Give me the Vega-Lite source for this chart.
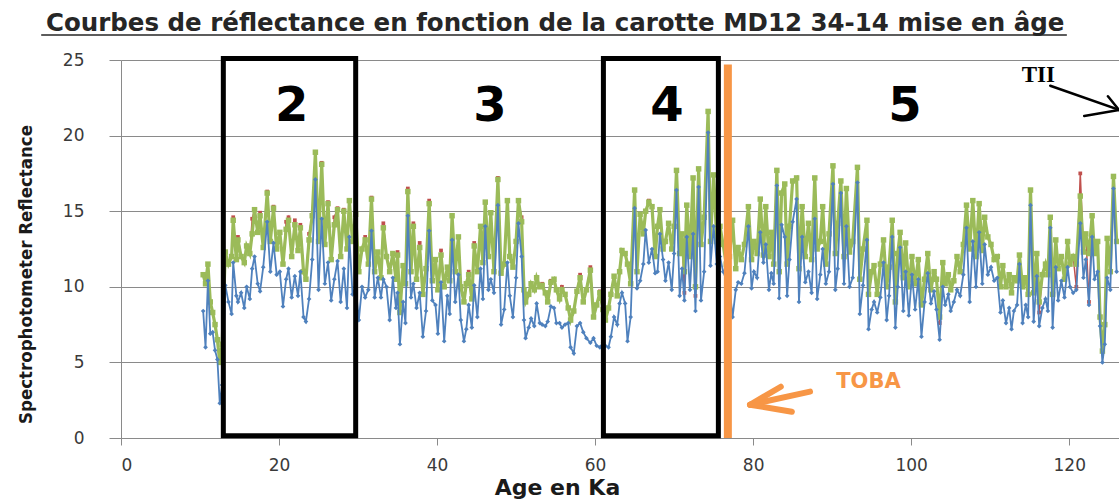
{
  "$schema": "https://vega.github.io/schema/vega-lite/v6.json",
  "width": 998,
  "height": 378,
  "autosize": {"type": "none"},
  "padding": {"left": 121, "top": 60, "right": 0, "bottom": 65},
  "background": "white",
  "config": {
    "view": {"stroke": null},
    "axisX": {"grid": false, "domainColor": "#8a8a8a", "tickColor": "#8a8a8a", "tickSize": 7,
              "labelFont": "DejaVu Sans", "labelFontSize": 17, "labelColor": "#3a3a3a", "labelPadding": 12,
              "titleFont": "DejaVu Sans", "titleFontSize": 22, "titleFontWeight": "bold", "titleColor": "#1a1a1a"},
    "axisY": {"grid": true, "gridColor": "#8a8a8a", "domainColor": "#8a8a8a", "tickColor": "#8a8a8a", "tickSize": 12,
              "labelFont": "DejaVu Sans", "labelFontSize": 17, "labelColor": "#3a3a3a", "labelPadding": 25,
              "titleFont": "Liberation Sans Narrow, DejaVu Sans Condensed, sans-serif",
              "titleFontSize": 18.5, "titleFontWeight": "bold", "titleColor": "#1a1a1a"}
  },
  "datasets": {
    "series": [
      {"a":10.4,"g":10.8,"r":10.8,"b":8.4},{"a":10.7,"g":10.2,"r":10.2,"b":6.0},{"a":11.0,"g":11.5,"r":11.5,"b":10.4},{"a":11.3,"g":9.0,"r":9.0,"b":6.9},
      {"a":11.6,"g":8.3,"r":8.3,"b":7.0},{"a":11.9,"g":7.5,"r":7.5,"b":5.8},{"a":12.2,"g":6.5,"r":6.5,"b":5.2},{"a":12.5,"g":5.0,"r":5.0,"b":2.3},
      {"a":12.8,"g":6.2,"r":6.2,"b":3.5},{"a":13.2,"g":12.3,"r":12.3,"b":10.1},{"a":13.6,"g":11.5,"r":11.5,"b":9.0},{"a":14.0,"g":12.0,"r":12.0,"b":8.2},
      {"a":14.2,"g":14.4,"r":14.6,"b":11.6},{"a":14.6,"g":11.8,"r":11.8,"b":9.4},{"a":14.8,"g":13.1,"r":13.3,"b":9.0},{"a":15.2,"g":12.0,"r":12.0,"b":9.6},
      {"a":15.6,"g":11.6,"r":11.6,"b":8.6},{"a":15.9,"g":12.7,"r":12.7,"b":10.0},{"a":16.3,"g":12.2,"r":12.2,"b":9.2},{"a":16.6,"g":13.5,"r":14.5,"b":11.2},
      {"a":16.9,"g":15.1,"r":15.1,"b":12.0},{"a":17.3,"g":13.6,"r":13.6,"b":10.2},{"a":17.6,"g":14.7,"r":14.9,"b":9.7},{"a":18.0,"g":12.6,"r":12.6,"b":11.3},
      {"a":18.5,"g":16.2,"r":16.3,"b":14.3},{"a":18.9,"g":13.0,"r":13.0,"b":11.0},{"a":19.3,"g":15.2,"r":15.3,"b":12.9},{"a":19.7,"g":12.5,"r":12.5,"b":10.8},
      {"a":20.1,"g":13.6,"r":13.6,"b":11.0},{"a":20.5,"g":11.5,"r":11.5,"b":8.7},{"a":20.9,"g":13.8,"r":14.3,"b":10.5},{"a":21.2,"g":14.4,"r":14.6,"b":11.2},
      {"a":21.6,"g":12.0,"r":12.0,"b":9.3},{"a":22.0,"g":14.1,"r":14.4,"b":10.7},{"a":22.4,"g":12.4,"r":12.4,"b":9.4},{"a":22.7,"g":13.9,"r":14.1,"b":11.0},
      {"a":23.1,"g":11.0,"r":11.0,"b":8.0},{"a":23.4,"g":10.5,"r":10.5,"b":7.7},{"a":23.8,"g":13.1,"r":13.5,"b":9.2},{"a":24.2,"g":14.7,"r":14.7,"b":11.8},
      {"a":24.6,"g":18.9,"r":18.9,"b":17.1},{"a":25.0,"g":13.0,"r":13.0,"b":9.8},{"a":25.4,"g":18.1,"r":18.2,"b":14.5},{"a":25.8,"g":12.8,"r":12.8,"b":10.2},
      {"a":26.2,"g":15.5,"r":15.6,"b":11.6},{"a":26.6,"g":11.8,"r":11.8,"b":9.1},{"a":27.0,"g":14.1,"r":14.6,"b":10.5},{"a":27.4,"g":15.1,"r":15.2,"b":11.7},
      {"a":27.8,"g":12.0,"r":12.0,"b":9.0},{"a":28.2,"g":15.0,"r":15.1,"b":11.2},{"a":28.6,"g":12.5,"r":12.5,"b":8.6},{"a":28.9,"g":15.7,"r":15.7,"b":13.3},
      {"a":29.3,"g":13.0,"r":13.0,"b":9.5},{"a":29.7,"g":14.8,"r":14.8,"b":10.0},{"a":30.1,"g":11.0,"r":11.0,"b":7.8},{"a":30.5,"g":12.5,"r":12.5,"b":10.0},
      {"a":30.9,"g":13.1,"r":13.3,"b":9.3},{"a":31.3,"g":11.5,"r":11.5,"b":9.8},{"a":31.7,"g":15.8,"r":15.9,"b":13.7},{"a":32.1,"g":11.0,"r":11.0,"b":9.3},
      {"a":32.5,"g":12.3,"r":12.3,"b":10.6},{"a":32.9,"g":10.6,"r":10.6,"b":9.3},{"a":33.2,"g":13.9,"r":14.2,"b":10.5},{"a":33.6,"g":12.0,"r":12.0,"b":10.0},
      {"a":34.0,"g":11.0,"r":11.0,"b":7.8},{"a":34.4,"g":12.2,"r":12.2,"b":10.6},{"a":34.8,"g":10.5,"r":10.5,"b":8.6},{"a":35.0,"g":12.1,"r":12.3,"b":9.6},
      {"a":35.3,"g":8.3,"r":8.3,"b":6.2},{"a":35.7,"g":11.4,"r":11.4,"b":9.0},{"a":36.0,"g":10.2,"r":10.2,"b":7.6},{"a":36.3,"g":16.3,"r":16.5,"b":14.7},
      {"a":36.7,"g":11.0,"r":11.0,"b":9.3},{"a":37.0,"g":14.0,"r":14.2,"b":10.2},{"a":37.4,"g":10.5,"r":10.5,"b":8.6},{"a":37.8,"g":12.6,"r":12.9,"b":9.6},
      {"a":38.2,"g":9.5,"r":9.5,"b":6.7},{"a":38.6,"g":11.2,"r":11.2,"b":8.4},{"a":39.0,"g":15.5,"r":15.7,"b":13.7},{"a":39.4,"g":10.4,"r":10.4,"b":9.1},
      {"a":39.8,"g":11.8,"r":11.8,"b":8.8},{"a":40.1,"g":9.8,"r":9.8,"b":6.9},{"a":40.5,"g":12.1,"r":12.4,"b":10.3},{"a":40.9,"g":10.0,"r":10.0,"b":6.4},
      {"a":41.3,"g":11.3,"r":11.3,"b":9.4},{"a":41.6,"g":10.4,"r":10.4,"b":8.2},{"a":41.9,"g":14.7,"r":14.7,"b":13.1},{"a":42.3,"g":11.0,"r":11.0,"b":9.0},
      {"a":42.7,"g":13.3,"r":13.3,"b":10.8},{"a":43.0,"g":10.0,"r":10.0,"b":7.8},{"a":43.4,"g":9.0,"r":9.0,"b":6.4},{"a":43.7,"g":10.2,"r":10.2,"b":7.2},
      {"a":44.0,"g":10.8,"r":11.0,"b":8.8},{"a":44.4,"g":9.2,"r":9.2,"b":7.3},{"a":44.7,"g":12.7,"r":12.9,"b":10.1},{"a":45.1,"g":11.0,"r":11.0,"b":8.0},
      {"a":45.5,"g":14.0,"r":14.0,"b":11.2},{"a":45.8,"g":11.6,"r":11.6,"b":9.2},{"a":46.1,"g":15.6,"r":15.6,"b":14.0},{"a":46.5,"g":12.0,"r":12.0,"b":9.8},
      {"a":46.8,"g":14.9,"r":14.9,"b":10.5},{"a":47.2,"g":11.0,"r":11.0,"b":9.6},{"a":47.7,"g":17.1,"r":17.2,"b":15.4},{"a":48.1,"g":10.9,"r":11.0,"b":7.5},
      {"a":48.5,"g":11.5,"r":11.5,"b":8.5},{"a":48.9,"g":15.7,"r":15.7,"b":11.6},{"a":49.2,"g":12.0,"r":12.0,"b":9.4},{"a":49.6,"g":11.3,"r":11.3,"b":8.0},
      {"a":50.0,"g":13.0,"r":13.0,"b":10.6},{"a":50.3,"g":15.7,"r":15.7,"b":14.2},{"a":50.7,"g":14.3,"r":14.6,"b":12.0},{"a":51.0,"g":9.8,"r":9.8,"b":7.8},
      {"a":51.2,"g":9.0,"r":9.0,"b":6.6},{"a":51.6,"g":9.5,"r":9.5,"b":7.3},{"a":51.9,"g":10.2,"r":10.2,"b":7.9},{"a":52.3,"g":9.8,"r":9.8,"b":7.4},
      {"a":52.6,"g":10.6,"r":10.6,"b":8.9},{"a":53.0,"g":10.0,"r":10.0,"b":7.6},{"a":53.3,"g":10.1,"r":10.2,"b":7.5},{"a":53.7,"g":9.6,"r":9.6,"b":7.4},
      {"a":54.0,"g":9.0,"r":9.1,"b":7.7},{"a":54.4,"g":10.3,"r":10.4,"b":8.7},{"a":54.8,"g":10.5,"r":10.5,"b":8.6},{"a":55.1,"g":9.8,"r":9.8,"b":7.6},
      {"a":55.5,"g":9.2,"r":9.2,"b":7.6},{"a":55.8,"g":9.8,"r":10.0,"b":7.3},{"a":56.2,"g":9.5,"r":9.5,"b":7.5},{"a":56.6,"g":8.6,"r":8.6,"b":7.6},
      {"a":56.9,"g":7.8,"r":7.8,"b":6.0},{"a":57.3,"g":8.4,"r":8.4,"b":5.6},{"a":57.7,"g":9.7,"r":9.7,"b":7.4},{"a":58.1,"g":10.6,"r":10.8,"b":7.6},
      {"a":58.5,"g":9.0,"r":9.0,"b":7.0},{"a":58.9,"g":9.8,"r":9.8,"b":6.6},{"a":59.4,"g":11.1,"r":11.3,"b":6.3},{"a":59.8,"g":8.0,"r":8.0,"b":6.6},
      {"a":60.2,"g":8.8,"r":8.8,"b":6.1},{"a":60.6,"g":9.6,"r":9.7,"b":6.0},{"a":61.0,"g":8.5,"r":8.5,"b":6.3},{"a":61.3,"g":7.8,"r":7.8,"b":6.1},
      {"a":61.7,"g":8.6,"r":8.6,"b":6.0},{"a":62.0,"g":9.5,"r":9.5,"b":6.7},{"a":62.4,"g":10.7,"r":10.7,"b":8.0},{"a":62.8,"g":9.4,"r":9.4,"b":7.5},
      {"a":63.1,"g":11.0,"r":11.0,"b":8.9},{"a":63.4,"g":12.4,"r":12.4,"b":9.6},{"a":63.8,"g":12.2,"r":12.2,"b":8.9},{"a":64.1,"g":11.5,"r":11.5,"b":6.4},
      {"a":64.5,"g":10.2,"r":10.2,"b":8.0},{"a":65.0,"g":16.4,"r":16.4,"b":15.2},{"a":65.3,"g":11.0,"r":11.0,"b":9.9},{"a":65.7,"g":14.8,"r":14.8,"b":10.4},
      {"a":66.1,"g":13.5,"r":13.5,"b":11.5},{"a":66.4,"g":15.0,"r":15.0,"b":13.75},{"a":66.8,"g":15.6,"r":15.7,"b":11.6},{"a":67.2,"g":15.3,"r":15.3,"b":12.5},
      {"a":67.6,"g":12.0,"r":12.0,"b":10.9},{"a":67.9,"g":14.0,"r":14.0,"b":11.0},{"a":68.2,"g":15.1,"r":15.1,"b":13.5},{"a":68.6,"g":12.5,"r":12.5,"b":11.8},
      {"a":68.9,"g":13.0,"r":13.0,"b":10.4},{"a":69.3,"g":14.2,"r":14.2,"b":11.6},{"a":69.7,"g":12.5,"r":12.5,"b":9.8},{"a":70.0,"g":14.0,"r":14.0,"b":12.2},
      {"a":70.3,"g":17.7,"r":17.7,"b":16.4},{"a":70.7,"g":12.2,"r":12.2,"b":9.4},{"a":71.0,"g":13.5,"r":13.5,"b":11.2},{"a":71.3,"g":11.0,"r":9.6,"b":9.1},
      {"a":71.6,"g":15.4,"r":15.4,"b":13.3},{"a":72.0,"g":12.0,"r":12.0,"b":9.8},{"a":72.4,"g":17.2,"r":17.2,"b":13.5},{"a":72.7,"g":10.0,"r":9.4,"b":8.4},
      {"a":73.1,"g":17.8,"r":17.8,"b":16.6},{"a":73.4,"g":12.8,"r":12.8,"b":9.1},{"a":73.8,"g":14.6,"r":14.6,"b":11.0},{"a":74.3,"g":21.6,"r":21.6,"b":20.2},
      {"a":74.6,"g":13.0,"r":13.0,"b":11.4},{"a":75.0,"g":17.4,"r":17.4,"b":14.0},{"a":75.4,"g":13.0,"r":13.0,"b":11.5},{"a":75.8,"g":14.0,"r":14.0,"b":12.0},
      {"a":76.2,"g":12.8,"r":12.8,"b":11.0},{"a":76.6,"g":11.5,"r":11.5,"b":10.5},{"a":77.0,"g":12.0,"r":12.0,"b":10.0},{"a":77.4,"g":14.4,"r":14.4,"b":8.0},
      {"a":77.8,"g":11.2,"r":11.2,"b":9.8},{"a":78.1,"g":12.6,"r":12.6,"b":10.3},{"a":78.5,"g":11.8,"r":11.8,"b":10.2},{"a":78.9,"g":12.8,"r":12.8,"b":10.9},
      {"a":79.4,"g":15.3,"r":15.3,"b":14.0},{"a":79.8,"g":11.8,"r":11.8,"b":9.9},{"a":80.1,"g":13.0,"r":13.0,"b":11.0},{"a":80.5,"g":12.2,"r":12.2,"b":10.6},
      {"a":80.9,"g":15.8,"r":15.8,"b":13.6},{"a":81.3,"g":12.1,"r":12.1,"b":11.6},{"a":81.6,"g":15.3,"r":15.3,"b":12.8},{"a":82.0,"g":12.0,"r":12.0,"b":9.8},
      {"a":82.3,"g":13.6,"r":13.6,"b":10.9},{"a":82.6,"g":11.5,"r":11.5,"b":10.2},{"a":83.0,"g":17.7,"r":17.7,"b":16.7},{"a":83.3,"g":11.0,"r":11.0,"b":9.25},
      {"a":83.6,"g":16.2,"r":16.2,"b":14.1},{"a":84.0,"g":16.8,"r":16.8,"b":13.3},{"a":84.3,"g":11.5,"r":11.5,"b":9.4},{"a":84.6,"g":14.0,"r":14.0,"b":11.8},
      {"a":85.0,"g":17.0,"r":17.0,"b":14.3},{"a":85.5,"g":17.2,"r":17.2,"b":15.8},{"a":85.8,"g":11.2,"r":11.2,"b":9.0},{"a":86.2,"g":15.3,"r":15.3,"b":13.3},
      {"a":86.6,"g":12.0,"r":12.0,"b":10.3},{"a":87.0,"g":14.2,"r":14.2,"b":11.0},{"a":87.4,"g":11.8,"r":11.8,"b":9.6},{"a":87.8,"g":17.2,"r":17.2,"b":14.5},
      {"a":88.1,"g":12.5,"r":12.5,"b":9.2},{"a":88.5,"g":13.0,"r":13.0,"b":10.8},{"a":88.8,"g":15.3,"r":15.3,"b":12.5},{"a":89.2,"g":11.5,"r":11.5,"b":10.2},
      {"a":89.6,"g":13.5,"r":13.5,"b":11.0},{"a":90.1,"g":18.0,"r":18.0,"b":16.8},{"a":90.4,"g":12.2,"r":12.2,"b":9.8},{"a":90.7,"g":14.2,"r":14.2,"b":11.2},
      {"a":91.1,"g":17.0,"r":17.0,"b":16.2},{"a":91.5,"g":12.0,"r":12.0,"b":10.2},{"a":91.8,"g":16.5,"r":16.5,"b":14.0},{"a":92.2,"g":12.3,"r":12.3,"b":10.0},
      {"a":92.6,"g":13.0,"r":13.0,"b":10.6},{"a":93.2,"g":17.9,"r":17.9,"b":16.9},{"a":93.5,"g":10.5,"r":10.5,"b":8.2},{"a":93.9,"g":12.5,"r":12.5,"b":10.1},
      {"a":94.4,"g":14.4,"r":14.4,"b":13.1},{"a":94.6,"g":9.5,"r":9.5,"b":7.2},{"a":95.0,"g":11.0,"r":11.0,"b":8.5},{"a":95.3,"g":11.4,"r":11.4,"b":9.0},
      {"a":95.7,"g":9.5,"r":9.5,"b":8.3},{"a":96.1,"g":11.5,"r":11.5,"b":9.3},{"a":96.5,"g":13.1,"r":13.1,"b":11.6},{"a":96.9,"g":10.0,"r":10.0,"b":7.8},
      {"a":97.2,"g":11.3,"r":11.3,"b":9.4},{"a":97.6,"g":14.4,"r":14.4,"b":13.3},{"a":98.0,"g":9.0,"r":9.0,"b":7.3},{"a":98.3,"g":12.2,"r":12.2,"b":10.0},
      {"a":98.6,"g":13.6,"r":13.6,"b":12.6},{"a":99.0,"g":10.6,"r":10.6,"b":8.4},{"a":99.3,"g":12.9,"r":12.9,"b":11.0},{"a":99.7,"g":10.0,"r":10.0,"b":8.1},
      {"a":100.1,"g":12.0,"r":12.0,"b":10.8},{"a":100.5,"g":10.2,"r":10.2,"b":8.5},{"a":100.9,"g":11.8,"r":11.8,"b":10.5},{"a":101.3,"g":8.8,"r":8.8,"b":6.7},
      {"a":101.7,"g":10.5,"r":10.5,"b":9.0},{"a":102.1,"g":12.2,"r":12.2,"b":10.9},{"a":102.5,"g":9.8,"r":9.8,"b":8.9},{"a":102.9,"g":11.0,"r":11.0,"b":9.7},
      {"a":103.2,"g":10.5,"r":10.5,"b":8.5},{"a":103.6,"g":8.0,"r":7.6,"b":6.5},{"a":104.0,"g":11.6,"r":11.6,"b":10.0},{"a":104.3,"g":10.2,"r":10.2,"b":8.8},
      {"a":104.7,"g":10.8,"r":10.8,"b":9.5},{"a":105.0,"g":9.8,"r":9.8,"b":8.4},{"a":105.4,"g":10.4,"r":10.4,"b":9.0},{"a":105.8,"g":12.0,"r":12.0,"b":9.8},
      {"a":106.2,"g":11.0,"r":11.0,"b":9.4},{"a":106.6,"g":12.8,"r":12.8,"b":10.8},{"a":107.0,"g":15.4,"r":15.4,"b":13.9},{"a":107.4,"g":12.5,"r":12.5,"b":9.0},
      {"a":107.8,"g":15.7,"r":15.7,"b":13.0},{"a":108.2,"g":12.0,"r":12.0,"b":10.0},{"a":108.6,"g":15.5,"r":15.5,"b":13.6},{"a":109.0,"g":12.4,"r":12.4,"b":10.2},
      {"a":109.3,"g":14.6,"r":14.6,"b":12.8},{"a":109.7,"g":13.3,"r":13.3,"b":10.8},{"a":110.1,"g":12.8,"r":12.8,"b":11.3},{"a":110.5,"g":11.8,"r":11.8,"b":10.4},
      {"a":110.9,"g":12.0,"r":12.0,"b":10.6},{"a":111.3,"g":10.0,"r":10.0,"b":8.3},{"a":111.6,"g":11.4,"r":11.4,"b":9.1},{"a":112.0,"g":10.0,"r":10.0,"b":7.6},
      {"a":112.4,"g":10.8,"r":10.8,"b":8.6},{"a":112.7,"g":9.6,"r":9.6,"b":7.2},{"a":113.0,"g":10.6,"r":10.6,"b":8.4},{"a":113.4,"g":10.4,"r":10.4,"b":8.8},
      {"a":113.7,"g":12.1,"r":12.1,"b":11.5},{"a":114.1,"g":10.0,"r":10.0,"b":7.6},{"a":114.5,"g":10.6,"r":10.6,"b":8.8},{"a":114.8,"g":9.5,"r":9.5,"b":8.0},
      {"a":115.1,"g":16.4,"r":16.4,"b":15.4},{"a":115.5,"g":9.6,"r":9.6,"b":7.7},{"a":115.9,"g":12.2,"r":12.2,"b":10.7},{"a":116.2,"g":9.0,"r":8.3,"b":7.4},
      {"a":116.6,"g":10.8,"r":10.8,"b":8.6},{"a":117.0,"g":11.5,"r":11.5,"b":9.2},{"a":117.3,"g":10.8,"r":10.8,"b":8.4},{"a":117.6,"g":14.6,"r":14.6,"b":13.9},
      {"a":117.9,"g":9.5,"r":9.5,"b":7.3},{"a":118.3,"g":13.1,"r":13.1,"b":11.3},{"a":118.6,"g":11.2,"r":11.2,"b":9.1},{"a":119.0,"g":12.0,"r":12.0,"b":10.4},
      {"a":119.4,"g":10.5,"r":10.5,"b":9.3},{"a":119.8,"g":13.0,"r":13.0,"b":11.3},{"a":120.1,"g":11.5,"r":11.5,"b":10.0},{"a":120.5,"g":12.0,"r":12.0,"b":9.6},
      {"a":120.9,"g":11.5,"r":10.0,"b":9.8},{"a":121.4,"g":16.0,"r":17.5,"b":14.2},{"a":121.8,"g":12.3,"r":12.3,"b":10.6},{"a":122.1,"g":13.5,"r":13.5,"b":11.8},
      {"a":122.5,"g":12.2,"r":9.0,"b":8.8},{"a":122.9,"g":14.7,"r":14.7,"b":13.3},{"a":123.2,"g":12.2,"r":12.2,"b":10.5},{"a":123.6,"g":13.0,"r":13.0,"b":11.0},
      {"a":123.9,"g":8.0,"r":8.0,"b":7.4},{"a":124.2,"g":5.75,"r":5.75,"b":5.0},{"a":124.5,"g":7.5,"r":7.5,"b":6.2},{"a":124.8,"g":13.2,"r":13.2,"b":10.6},
      {"a":125.2,"g":11.0,"r":11.0,"b":9.8},{"a":125.6,"g":17.3,"r":17.3,"b":16.5},{"a":126.0,"g":13.0,"r":13.0,"b":11.0}
    ],
    "boxes": [
      {"a1": 12.95, "a2": 29.7, "v1": 0.15, "v2": 25.1},
      {"a1": 61.05, "a2": 75.6, "v1": 0.15, "v2": 25.1}
    ],
    "toba": [{"a": 76.8, "v1": 0, "v2": 24.7}],
    "nums": [
      {"a": 21.6, "v": 21.9, "t": "2"},
      {"a": 46.7, "v": 21.9, "t": "3"},
      {"a": 69.1, "v": 21.9, "t": "4"},
      {"a": 99.2, "v": 21.9, "t": "5"}
    ],
    "tobaArrow": [
      {"x1": 87.2, "y1": 3.07, "x2": 79.6, "y2": 2.2},
      {"x1": 83.5, "y1": 3.39, "x2": 79.6, "y2": 2.2},
      {"x1": 84.9, "y1": 1.74, "x2": 79.6, "y2": 2.2}
    ],
    "tiiArrow": [
      {"x1": 117.6, "y1": 23.3, "x2": 126.3, "y2": 21.7},
      {"x1": 121.9, "y1": 21.3, "x2": 126.3, "y2": 21.7},
      {"x1": 124.9, "y1": 22.6, "x2": 126.3, "y2": 21.7}
    ],
    "notes": [
      {"a": 94.6, "v": 3.72, "t": "TOBA"}
    ],
    "tii": [
      {"a": 116.1, "v": 24.0, "t": "TII"}
    ],
    "heading": [
      {"a": 54.94, "v": 26.92, "t": "Courbes de réflectance en fonction de la carotte MD12 34-14 mise en âge"}
    ],
    "uline": [
      {"x1": -10.1, "x2": 119.7, "y": 26.65}
    ]
  },
  "layer": [
    {
      "data": {"name": "series"},
      "mark": {"type": "line", "color": "#C0504D", "strokeWidth": 1.5, "clip": true,
               "point": {"filled": true, "shape": "square", "size": 14, "color": "#C0504D"}},
      "encoding": {
        "x": {"field": "a", "type": "quantitative",
              "scale": {"domain": [0, 126.3], "nice": false, "zero": false},
              "axis": {"values": [0, 20, 40, 60, 80, 100, 120],
                       "title": "Age en Ka",
                       "titleX": 436, "titleY": 56, "titleBaseline": "alphabetic", "titleAlign": "center"}},
        "y": {"field": "r", "type": "quantitative",
              "scale": {"domain": [0, 25], "nice": false},
              "axis": {"values": [0, 5, 10, 15, 20, 25],
                       "title": "Spectrophotometer Reflectance",
                       "titleAngle": 270, "titleX": -96, "titleY": 214,
                       "titleAlign": "center", "titleBaseline": "middle"}}
      }
    },
    {
      "data": {"name": "series"},
      "mark": {"type": "line", "color": "#9BBB59", "strokeWidth": 3.2, "clip": true,
               "point": {"filled": true, "shape": "square", "size": 30, "color": "#9BBB59"}},
      "encoding": {
        "x": {"field": "a", "type": "quantitative"},
        "y": {"field": "g", "type": "quantitative"}
      }
    },
    {
      "data": {"name": "series"},
      "mark": {"type": "line", "color": "#4F81BD", "strokeWidth": 1.8, "clip": true,
               "point": {"filled": true, "shape": "diamond", "size": 22, "color": "#4F81BD"}},
      "encoding": {
        "x": {"field": "a", "type": "quantitative"},
        "y": {"field": "b", "type": "quantitative"}
      }
    },
    {
      "data": {"name": "boxes"},
      "mark": {"type": "rect", "filled": false, "stroke": "#000000", "strokeWidth": 5, "clip": false},
      "encoding": {
        "x": {"field": "a1", "type": "quantitative"},
        "x2": {"field": "a2"},
        "y": {"field": "v1", "type": "quantitative"},
        "y2": {"field": "v2"}
      }
    },
    {
      "data": {"name": "toba"},
      "mark": {"type": "rule", "color": "#F79646", "strokeWidth": 8, "clip": false},
      "encoding": {
        "x": {"field": "a", "type": "quantitative"},
        "y": {"field": "v1", "type": "quantitative"},
        "y2": {"field": "v2"}
      }
    },
    {
      "data": {"name": "nums"},
      "mark": {"type": "text", "font": "DejaVu Sans", "fontSize": 48, "fontWeight": "bold",
               "color": "#000000", "align": "center", "baseline": "middle", "clip": false},
      "encoding": {
        "x": {"field": "a", "type": "quantitative"},
        "y": {"field": "v", "type": "quantitative"},
        "text": {"field": "t"}
      }
    },
    {
      "data": {"name": "tobaArrow"},
      "mark": {"type": "rule", "color": "#F79646", "strokeWidth": 6, "strokeCap": "round", "clip": false},
      "encoding": {
        "x": {"field": "x1", "type": "quantitative"},
        "y": {"field": "y1", "type": "quantitative"},
        "x2": {"field": "x2"},
        "y2": {"field": "y2"}
      }
    },
    {
      "data": {"name": "tiiArrow"},
      "mark": {"type": "rule", "color": "#000000", "strokeWidth": 2.5, "strokeCap": "round", "clip": false},
      "encoding": {
        "x": {"field": "x1", "type": "quantitative"},
        "y": {"field": "y1", "type": "quantitative"},
        "x2": {"field": "x2"},
        "y2": {"field": "y2"}
      }
    },
    {
      "data": {"name": "notes"},
      "mark": {"type": "text", "font": "DejaVu Sans", "fontSize": 21, "fontWeight": "bold",
               "color": "#F79646", "align": "center", "baseline": "middle", "clip": false},
      "encoding": {
        "x": {"field": "a", "type": "quantitative"},
        "y": {"field": "v", "type": "quantitative"},
        "text": {"field": "t"}
      }
    },
    {
      "data": {"name": "tii"},
      "mark": {"type": "text", "font": "Liberation Serif", "fontSize": 23, "fontWeight": "bold",
               "color": "#000000", "align": "center", "baseline": "middle", "clip": false},
      "encoding": {
        "x": {"field": "a", "type": "quantitative"},
        "y": {"field": "v", "type": "quantitative"},
        "text": {"field": "t"}
      }
    },
    {
      "data": {"name": "heading"},
      "mark": {"type": "text", "font": "DejaVu Sans", "fontSize": 24.5, "fontWeight": "bold",
               "color": "#262626", "align": "center", "baseline": "alphabetic", "clip": false},
      "encoding": {
        "x": {"field": "a", "type": "quantitative"},
        "y": {"field": "v", "type": "quantitative"},
        "text": {"field": "t"}
      }
    },
    {
      "data": {"name": "uline"},
      "mark": {"type": "rule", "color": "#262626", "strokeWidth": 1.5, "clip": false},
      "encoding": {
        "x": {"field": "x1", "type": "quantitative"},
        "x2": {"field": "x2"},
        "y": {"field": "y", "type": "quantitative"}
      }
    }
  ]
}
